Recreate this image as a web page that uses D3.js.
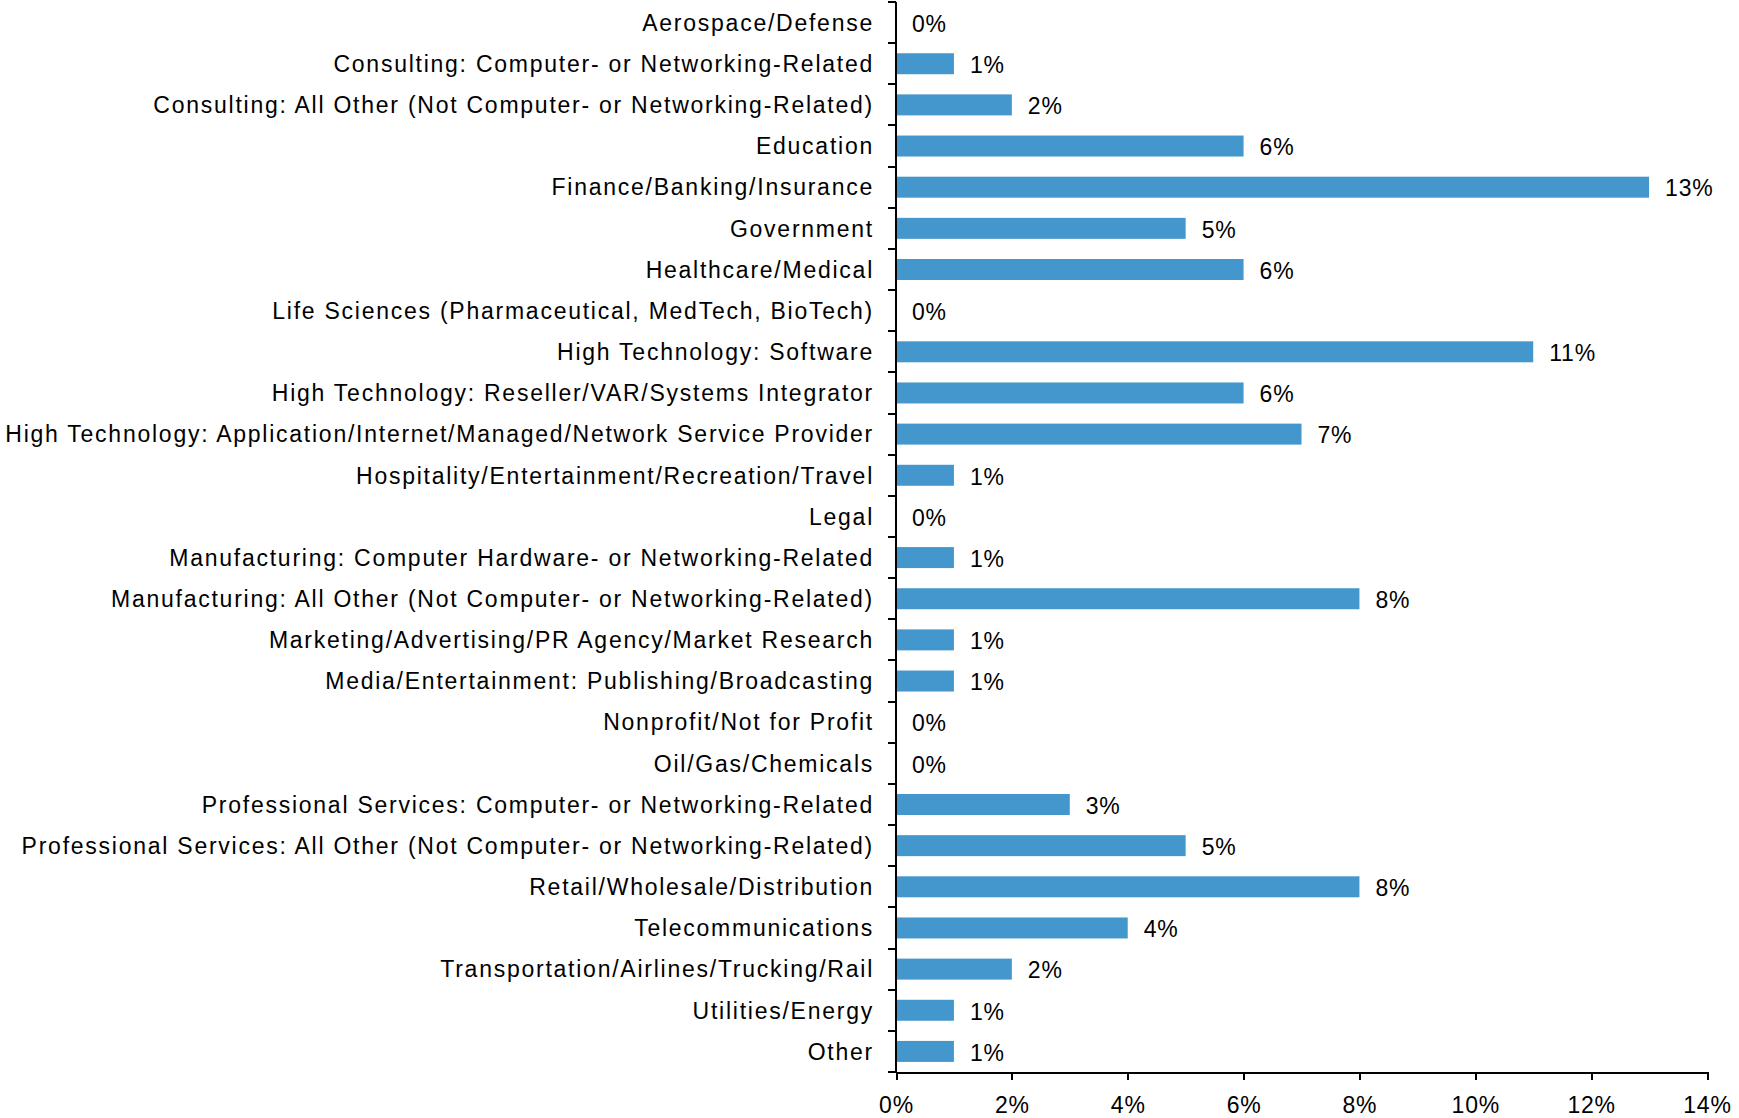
<!DOCTYPE html>
<html>
<head>
<meta charset="utf-8">
<script src="https://cdn.jsdelivr.net/npm/d3@7"></script>
<style>
	body { margin: 0; background: #fff; }
	svg { display: block; }
	text { font-family: "Liberation Sans", Arial, sans-serif; fill: #000; }
	.axis path, .axis line { stroke: #000; stroke-width: 2; shape-rendering: crispEdges; }
	.bar { fill: #4397cc; }
	.cat { letter-spacing: 1.75px; }
	.val, .axis.x text { letter-spacing: 0.8px; }
</style>
</head>
<body>
<div id="chart"></div>
<script>
const categories = [
	"Aerospace/Defense",
	"Consulting: Computer- or Networking-Related",
	"Consulting: All Other (Not Computer- or Networking-Related)",
	"Education",
	"Finance/Banking/Insurance",
	"Government",
	"Healthcare/Medical",
	"Life Sciences (Pharmaceutical, MedTech, BioTech)",
	"High Technology: Software",
	"High Technology: Reseller/VAR/Systems Integrator",
	"High Technology: Application/Internet/Managed/Network Service Provider",
	"Hospitality/Entertainment/Recreation/Travel",
	"Legal",
	"Manufacturing: Computer Hardware- or Networking-Related",
	"Manufacturing: All Other (Not Computer- or Networking-Related)",
	"Marketing/Advertising/PR Agency/Market Research",
	"Media/Entertainment: Publishing/Broadcasting",
	"Nonprofit/Not for Profit",
	"Oil/Gas/Chemicals",
	"Professional Services: Computer- or Networking-Related",
	"Professional Services: All Other (Not Computer- or Networking-Related)",
	"Retail/Wholesale/Distribution",
	"Telecommunications",
	"Transportation/Airlines/Trucking/Rail",
	"Utilities/Energy",
	"Other"
];
const values = [0, 1, 2, 6, 13, 5, 6, 0, 11, 6, 7, 1, 0, 1, 8, 1, 1, 0, 0, 3, 5, 8, 4, 2, 1, 1];
const xTicks = [0, 2, 4, 6, 8, 10, 12, 14];

const width = 1739, height = 1118;
const margin = { top: 2, right: 32, bottom: 46, left: 896 };

const svg = d3.select('#chart').append('svg')
	.attr('width', width)
	.attr('height', height);

const g = svg.append('g')
	.attr('transform', `translate(${margin.left},${margin.top})`);

const innerW = width - margin.left - margin.right;
const innerH = height - margin.top - margin.bottom;

const x = d3.scaleLinear().domain([0, 14]).range([0, innerW]);
const y = d3.scaleBand().domain(categories).range([0, innerH]).paddingInner(0.49).paddingOuter(0.245);

// bars
g.selectAll('.bar')
	.data(values)
	.join('rect')
	.attr('class', 'bar')
	.attr('x', x(0))
	.attr('y', (d, i) => y(categories[i]))
	.attr('width', d => x(d) - x(0))
	.attr('height', y.bandwidth());

// value labels
g.selectAll('.val')
	.data(values)
	.join('text')
	.attr('class', 'val')
	.attr('x', d => x(d) + 16)
	.attr('y', (d, i) => y(categories[i]) + y.bandwidth() / 2 + 1)
	.attr('dy', '0.36em')
	.style('font-size', '23px')
	.text(d => d + '%');

// category labels
const step = y.step();
g.selectAll('.cat')
	.data(categories)
	.join('text')
	.attr('class', 'cat')
	.attr('x', -22)
	.attr('y', d => y(d) + y.bandwidth() / 2)
	.attr('dy', '0.36em')
	.attr('text-anchor', 'end')
	.style('font-size', '23px')
	.text(d => d);

// y axis with ticks at band boundaries
const yAxis = g.append('g').attr('class', 'axis y');
yAxis.append('line')
	.attr('x1', 0).attr('x2', 0)
	.attr('y1', 0).attr('y2', innerH);
yAxis.selectAll('.tick')
	.data(d3.range(categories.length + 1))
	.join('line')
	.attr('class', 'tick')
	.attr('x1', -8).attr('x2', 0)
	.attr('y1', i => i * step).attr('y2', i => i * step);

// x axis
g.append('g')
	.attr('class', 'axis x')
	.attr('transform', `translate(0,${innerH})`)
	.call(d3.axisBottom(x).tickValues(xTicks).tickSize(8).tickSizeOuter(0).tickPadding(17).tickFormat(d => d + '%'))
	.call(a => a.selectAll('text').style('font-size', '23px').attr('fill', '#000'));
</script>
</body>
</html>
